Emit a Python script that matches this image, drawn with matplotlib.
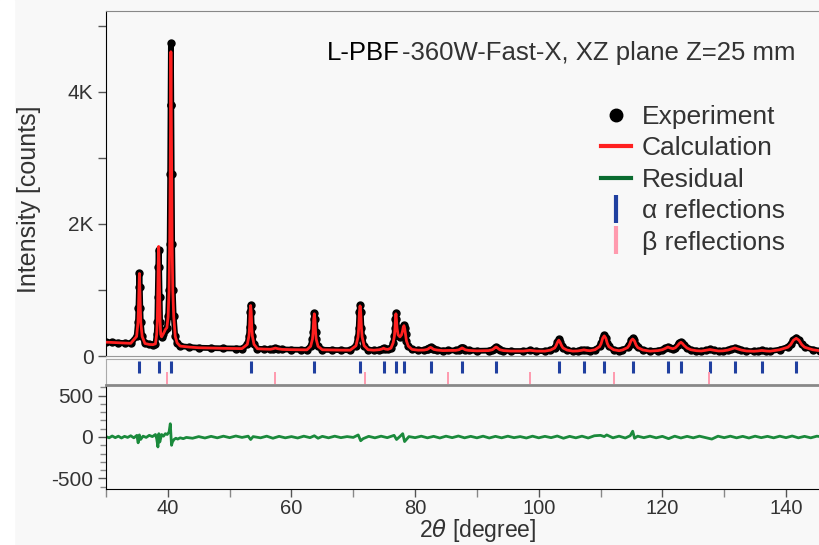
import matplotlib.pyplot as plt
from matplotlib.lines import Line2D
from matplotlib.patches import Rectangle
from matplotlib.ticker import FixedLocator, MultipleLocator, FuncFormatter

plt.rcParams['font.family'] = ['Liberation Sans', 'DejaVu Sans']
plt.rcParams['mathtext.fontset'] = 'dejavusans'
plt.rcParams['axes.unicode_minus'] = False

# ---- data ----
# 2theta grid of the profile (deg), grouped peak by peak
two_theta = [30.0, 31.0, 32.0, 33.0, 34.0,
             34.95, 35.17, 35.25, 35.33, 35.40, 35.47, 35.55, 35.63, 35.85,
             36.3, 37.0, 37.6, 38.0,
             38.2, 38.3, 38.37, 38.45, 38.52, 38.59, 38.67, 38.75, 38.85,
             39.0, 39.3, 39.6, 39.85, 40.05,
             40.2, 40.3, 40.38, 40.44, 40.5, 40.56, 40.62, 40.7, 40.8, 40.95,
             41.2, 41.5, 42.0, 43.5, 45.0, 47.0, 49.0, 51.0, 52.0,
             52.86, 53.13, 53.22, 53.31, 53.4, 53.49, 53.58, 53.67, 53.94,
             54.5, 55.5, 56.6, 57.0, 57.4, 57.8, 58.5, 60.0, 61.5, 62.5,
             63.1, 63.4, 63.5, 63.6, 63.7, 63.8, 63.9, 64.0, 64.3,
             65.0, 66.5, 68.0, 69.5,
             70.44, 70.77, 70.88, 70.99, 71.1, 71.21, 71.32, 71.43, 71.76,
             72.4, 73.3, 74.2, 74.6, 74.9, 75.2, 75.6,
             76.1, 76.45, 76.65, 76.75, 76.82, 76.9, 76.98, 77.08, 77.25, 77.55,
             77.8, 77.97, 78.08, 78.2, 78.32, 78.45, 78.6, 78.9, 79.5, 80.5,
             81.45, 81.98, 82.15, 82.33, 82.5, 82.67, 82.85, 83.02, 83.55,
             84.5, 85.3,
             86.55, 87.08, 87.25, 87.43, 87.6, 87.77, 87.95, 88.12, 88.65,
             90.0,
             91.9, 92.5, 92.7, 92.9, 93.1, 93.3, 93.5, 93.7, 94.3,
             95.5, 97.5, 98.6, 99.6, 101.0,
             101.9, 102.58, 102.8, 103.03, 103.25, 103.47, 103.7, 103.92, 104.6,
             105.5, 106.3, 106.8, 107.3, 107.8, 108.3,
             109.1, 109.85, 110.1, 110.35, 110.6, 110.85, 111.1, 111.35, 112.1,
             113.0,
             113.55, 114.38, 114.65, 114.93, 115.2, 115.47, 115.75, 116.02, 116.85,
             118.0, 119.3, 120.0, 120.5, 120.9, 121.3, 121.7,
             122.1, 122.5, 122.75, 123.0, 123.25, 123.5, 124.0, 124.6, 125.5,
             126.3, 127.0, 127.7, 128.4, 129.1,
             129.8, 130.6, 131.1, 131.7, 132.3, 132.8, 133.6,
             134.8, 135.4, 136.1, 136.8, 137.4,
             138.95, 140.3, 140.75, 141.2, 141.65, 142.1, 142.55, 143.0, 144.35,
             145.5]

observed = [210, 205, 200, 196, 192,
            297, 511, 725, 1046, 1260, 1046, 725, 511, 297,
            190, 175, 172, 185,
            330, 520, 900, 1350, 1600, 1350, 900, 520, 330,
            290, 340, 400, 430, 600,
            1000, 1700, 2750, 3800, 4740, 3800, 2750, 1700, 1000, 600,
            300, 200, 150, 135, 125, 120, 116, 113, 112,
            176, 308, 440, 671, 770, 671, 440, 308, 176,
            110, 105, 102, 110, 122, 110, 100, 96, 94, 93,
            148, 259, 371, 566, 650, 566, 371, 259, 148,
            94, 91, 89, 88,
            156, 293, 429, 668, 770, 668, 429, 293, 156,
            95, 88, 95, 105, 120, 105, 100,
            120, 200, 300, 420, 560, 650, 560, 420, 320, 290,
            320, 380, 440, 470, 420, 330, 230, 150, 100, 88,
            90, 100, 110, 125, 135, 125, 110, 100, 90,
            82, 84,
            85, 94, 103, 116, 125, 116, 103, 94, 85,
            78,
            82, 95, 108, 127, 140, 127, 108, 95, 82,
            75, 75, 86, 75, 74,
            89, 124, 158, 210, 250, 210, 158, 124, 89,
            74, 77, 84, 95, 84, 80,
            96, 145, 194, 279, 315, 279, 194, 145, 96,
            80,
            92, 131, 170, 239, 268, 239, 170, 131, 92,
            74, 82, 95, 118, 140, 122, 110,
            125, 165, 195, 215, 195, 165, 120, 95, 80,
            76, 86, 100, 86, 76,
            78, 90, 105, 125, 105, 90, 76,
            72, 76, 85, 76, 73,
            96, 137, 178, 249, 280, 249, 178, 137, 96,
            80]

calculated = [210, 205, 200, 196, 192,
              296, 508, 720, 1041, 1250, 1041, 720, 508, 296,
              190, 175, 172, 185,
              330, 530, 930, 1400, 1660, 1400, 930, 530, 330,
              290, 340, 400, 430, 600,
              1000, 1700, 2700, 3700, 4610, 3700, 2700, 1700, 1000, 600,
              300, 200, 150, 135, 125, 120, 116, 113, 112,
              176, 306, 438, 667, 765, 667, 438, 306, 176,
              110, 105, 102, 110, 120, 110, 100, 96, 94, 93,
              147, 256, 366, 558, 640, 558, 366, 256, 147,
              94, 91, 89, 88,
              155, 290, 424, 659, 760, 659, 424, 290, 155,
              95, 88, 95, 105, 118, 105, 100,
              120, 200, 300, 420, 555, 640, 555, 420, 320, 290,
              320, 380, 435, 460, 415, 330, 230, 150, 100, 88,
              90, 100, 110, 123, 130, 123, 110, 100, 90,
              82, 84,
              85, 94, 103, 114, 122, 114, 103, 94, 85,
              78,
              82, 95, 108, 125, 136, 125, 108, 95, 82,
              75, 75, 86, 75, 74,
              89, 122, 156, 206, 240, 206, 156, 122, 89,
              74, 77, 84, 93, 84, 80,
              95, 142, 189, 270, 305, 270, 189, 142, 95,
              80,
              91, 128, 165, 231, 258, 231, 165, 128, 91,
              74, 82, 95, 116, 136, 120, 110,
              124, 162, 190, 208, 190, 162, 120, 95, 80,
              76, 86, 98, 86, 76,
              78, 90, 104, 122, 104, 90, 76,
              72, 76, 84, 76, 73,
              94, 133, 172, 239, 268, 239, 172, 133, 94,
              80]

res_theta = [30, 30.5, 31, 31.5, 32, 32.5, 33, 33.5, 34, 34.5,
             35, 35.2, 35.4, 35.6, 36, 36.5, 37, 37.5, 38, 38.2,
             38.4, 38.55, 38.7, 39, 39.3, 39.6, 39.9, 40.2, 40.4, 40.5,
             40.6, 40.75, 41, 41.3, 41.6, 42, 42.5, 43, 44, 45,
             46, 47, 48, 49, 50, 51, 52, 53, 53.4, 53.8,
             55, 56, 57, 58, 59, 60, 61, 62, 63, 63.7,
             64.3, 65, 66, 67, 68, 69, 70, 70.8, 71.2, 71.6,
             72.5, 73.5, 74.5, 75.5, 76.6, 77, 77.6, 78, 78.3, 79,
             80, 81, 82, 83, 84, 85, 86, 87, 88, 89,
             90, 91, 92, 93, 94, 95, 96, 97, 98, 99,
             100, 101, 102, 103, 104, 105, 106, 107, 108, 109,
             110, 110.6, 111, 112, 113, 114, 114.8, 115.2, 115.5, 116,
             117, 118, 119, 120, 121, 122, 123, 124, 125, 126,
             127, 128, 129, 130, 131, 132, 133, 134, 135, 136,
             137, 138, 139, 140, 141, 142, 143, 144, 145, 145.5]

residual = [5, -10, 12, -8, 10, -12, 8, -5, 15, -10,
            20, -70, 25, -30, 10, -5, 20, 5, 30, -20,
            -120, 40, -60, 30, 10, 40, 30, 60, 160, 40,
            -100, -60, -30, -15, -25, -10, -20, -5, -15, 5,
            -12, 8, -10, 10, -8, 12, -5, 10, -30, 5,
            -10, 10, -15, 8, -10, 5, -12, 10, -8, 15,
            -15, 8, -10, 10, -8, 5, -5, 25, -45, -20,
            8, -10, 10, -8, 20, -30, 10, 40, -55, 5,
            -8, 10, -10, 8, -12, 10, -8, 12, -10, 8,
            -10, 10, -12, 8, -10, 10, -8, 5, -12, 10,
            -10, 8, -8, 12, -15, 8, -10, 10, -12, 15,
            20, 5, 25, -10, 10, -12, 15, 70, -15, 10,
            -8, 10, -10, 8, -20, 10, -12, 8, -10, 10,
            -8, -25, 10, -8, 10, -10, 8, -12, 10, -8,
            8, -10, 10, -8, 12, -10, 8, -10, 10, 5]

alpha_positions = [35.4, 38.5, 40.5, 53.4, 63.7, 71.1, 74.9, 76.9, 78.2, 82.5, 87.6,
                   93.1, 103.25, 107.3, 110.6, 115.2, 120.9, 123.0, 127.7, 131.7,
                   136.1, 141.65]
beta_positions = [39.8, 57.4, 71.9, 85.3, 98.6, 112.2, 127.5]

legend_labels = ["Experiment", "Calculation", "Residual", "α reflections", "β reflections"]

BG = "#f8f8f8"
TXT = "#333333"
RED = "#ff2020"
GREEN = "#1b8a3c"
BLUE = "#2040a0"
PINK = "#ff9aae"

W, H = 820, 545
def box(l, t, r, b):
    return [l / W, 1 - b / H, (r - l) / W, (b - t) / H]

fig = plt.figure(figsize=(8.2, 5.45), dpi=100, facecolor=BG)
fig.add_artist(Rectangle((0, 0), 14 / W, 1, transform=fig.transFigure, color="white", zorder=-1))

ax = fig.add_axes(box(106, 11, 820, 356), facecolor=BG)
ax_ref = fig.add_axes(box(106, 359, 820, 384), facecolor=BG, sharex=ax)
ax_res = fig.add_axes(box(106, 385, 820, 489), facecolor=BG, sharex=ax)

# main profile
ax.plot(two_theta, observed, color="black", lw=4.2, solid_joinstyle="round", zorder=2)
ax.plot(two_theta, observed, "o", color="black", ms=5, zorder=2)
ax.plot(two_theta, calculated, color=RED, lw=2.0, zorder=3)
ax.set_xlim(30, 145.5)
ax.set_ylim(0, 5227)
ax.yaxis.set_major_locator(FixedLocator([0, 2000, 4000]))
ax.yaxis.set_minor_locator(FixedLocator([1000, 3000, 5000]))
ax.yaxis.set_major_formatter(FuncFormatter(lambda v, p: "0" if v == 0 else "%dK" % (v / 1000)))
ax.tick_params(axis="y", which="both", direction="out", length=6, width=1, color="#555555",
               labelsize=15, labelcolor=TXT, pad=3)
ax.tick_params(axis="x", which="both", bottom=False, labelbottom=False)
ax.spines["right"].set_visible(False)
ax.spines["left"].set_color("black")
ax.spines["top"].set_color("#888888")
ax.spines["bottom"].set_color("#999999")

# reflection markers
ax_ref.vlines(alpha_positions, 0.46, 0.94, color=BLUE, lw=2.2)
ax_ref.vlines(beta_positions, 0.02, 0.5, color=PINK, lw=1.4)
ax_ref.set_ylim(0, 1)
ax_ref.set_yticks([])
ax_ref.tick_params(axis="x", which="both", bottom=False, labelbottom=False)
ax_ref.spines["right"].set_visible(False)
ax_ref.spines["bottom"].set_visible(False)
for s in ("left", "top"):
    ax_ref.spines[s].set_color("#aaaaaa")

# residual
ax_res.plot(res_theta, residual, color=GREEN, lw=2.0)
ax_res.set_ylim(-627, 627)
ax_res.yaxis.set_major_locator(FixedLocator([-500, 0, 500]))
ax_res.yaxis.set_minor_locator(MultipleLocator(100))
ax_res.xaxis.set_major_locator(MultipleLocator(20))
ax_res.xaxis.set_minor_locator(MultipleLocator(10))
ax_res.tick_params(axis="both", which="major", direction="out", length=6, width=1, color="#555555",
                   labelsize=15, labelcolor=TXT)
ax_res.tick_params(axis="x", which="major", labelsize=14.5, pad=1.5)
ax_res.tick_params(axis="y", which="minor", direction="out", length=4, width=1, color="#888888")
ax_res.tick_params(axis="x", which="minor", direction="out", length=6, width=1, color="#888888")
ax_res.spines["right"].set_visible(False)
ax_res.spines["top"].set_color("#888888")
ax_res.spines["top"].set_linewidth(2)

# labels
fig.text(29 / W, 1 - 199 / H, "Intensity [counts]", rotation=90, ha="center", va="center",
         fontsize=18, color=TXT)
fig.text(478 / W, 1 - 530.5 / H, r"2$\theta$ [degree]", ha="center", va="center",
         fontsize=16.5, color=TXT)
fig.text(327 / W, 1 - 60 / H, "L-PBF", ha="left", va="baseline", fontsize=18.5, color="black")
fig.text(402 / W, 1 - 60 / H, "-360W-Fast-X, XZ plane Z=25 mm", ha="left", va="baseline",
         fontsize=18.5, color=TXT)

# legend
handles = [Line2D([], [], marker="o", ls="none", color="black", ms=9),
           Line2D([], [], color=RED, lw=3),
           Line2D([], [], color="#0a6b30", lw=3),
           Line2D([], [], marker="|", ls="none", color=BLUE, ms=20, mew=3),
           Line2D([], [], marker="|", ls="none", color=PINK, ms=20, mew=3)]
leg = ax.legend(handles, legend_labels, loc="upper left", bbox_to_anchor=(601 / W, 1 - 105 / H),
                bbox_transform=fig.transFigure, frameon=False, fontsize=19, labelcolor=TXT,
                handlelength=1.15, handletextpad=0.4, labelspacing=0.28, borderpad=0,
                borderaxespad=0)

fig.savefig("out.png", dpi=100, facecolor=fig.get_facecolor())
